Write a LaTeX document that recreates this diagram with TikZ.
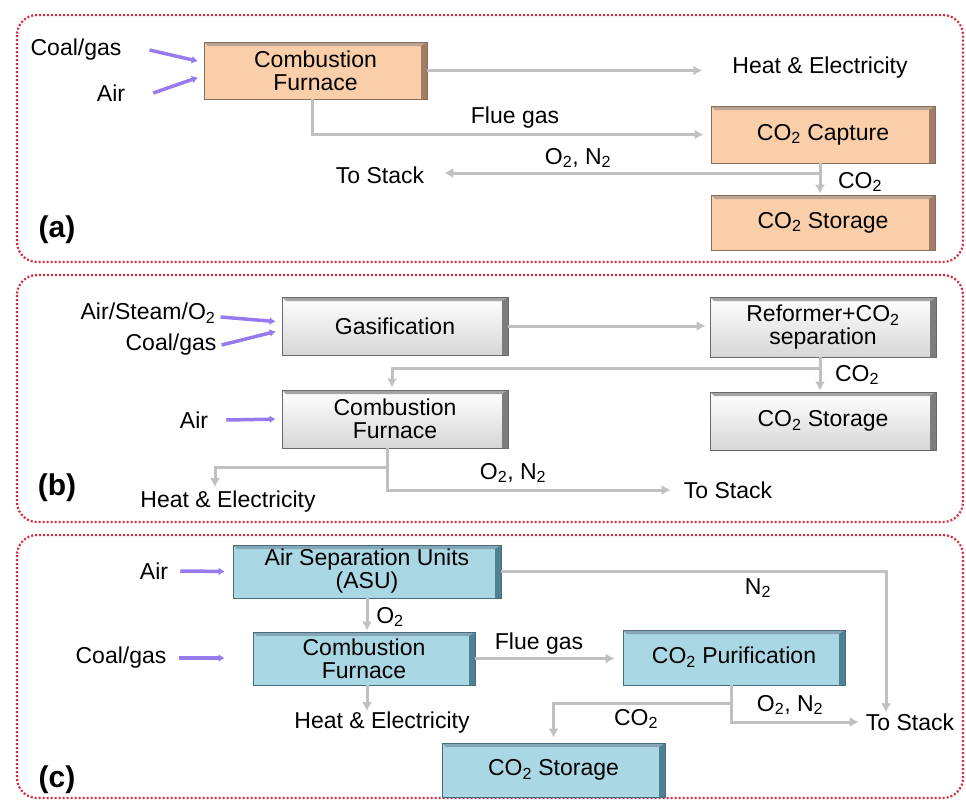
\documentclass[tikz,border=0pt]{standalone}
\usepackage{fontspec}
\setmainfont{Liberation Sans}
\usetikzlibrary{arrows.meta,calc}
\definecolor{framered}{RGB}{215,40,60}
\definecolor{flowgray}{RGB}{192,192,192}
\definecolor{feedpurple}{RGB}{150,122,238}
\definecolor{pfill}{RGB}{250,206,168}
\definecolor{pdark}{RGB}{160,125,100}
\definecolor{ptop}{RGB}{225,195,172}
\definecolor{pline}{RGB}{135,110,90}
\definecolor{gdark}{RGB}{125,125,125}
\definecolor{gtop}{RGB}{185,185,185}
\definecolor{gline}{RGB}{105,105,105}
\definecolor{bfill}{RGB}{170,215,228}
\definecolor{bdark}{RGB}{80,128,148}
\definecolor{btop}{RGB}{130,178,194}
\definecolor{bline}{RGB}{70,108,126}
\begin{document}
\begin{tikzpicture}[x=1pt,y=-1pt,
  every node/.style={font=\fontsize{23}{23}\selectfont, inner sep=0pt, align=center},
  box/.style n args={3}{draw=#3, line width=0.8pt, fill=#1,
    path picture={
      \fill[#2] ([xshift=-6pt]path picture bounding box.north east) rectangle (path picture bounding box.south east);
      \fill[#2!70!white] (path picture bounding box.north west) -- (path picture bounding box.north east)
        -- ([xshift=-6pt,yshift=-4pt]path picture bounding box.north east) -- ([xshift=4pt,yshift=-4pt]path picture bounding box.north west) -- cycle;
    }},
  pbox/.style={box={pfill}{pdark}{pline}},
  gbox/.style={box={white}{gdark}{gline}, top color=white, bottom color=black!16},
  bbox/.style={box={bfill}{bdark}{bline}},
  flow/.style={draw=flowgray, line width=3pt, -{Latex[length=9pt,width=10pt]}},
  feed/.style={draw=feedpurple, line width=3.5pt, -{Latex[length=6pt,width=8pt]}, shorten >=6pt},
  frame/.style={draw=framered, line width=2.2pt, dash pattern=on 2pt off 2pt, rounded corners=20pt},
  panel/.style={font=\bfseries\fontsize{30}{30}\selectfont}
]
\useasboundingbox (0,0) rectangle (966,801);

% frames
\draw[frame] (17,15) rectangle (963,262);
\draw[frame] (17,275) rectangle (963,522);
\draw[frame] (17,535) rectangle (963,798);

% ---------------- (a) ----------------
\node[pbox, minimum width=223pt, minimum height=57pt] (cfa) at (315.5,70.5) {Combustion\\Furnace};
\node[pbox, minimum width=224pt, minimum height=57pt] (capa) at (823,134.5) {CO\textsubscript{2} Capture};
\node[pbox, minimum width=224pt, minimum height=55pt] (stoa) at (823,222.5) {CO\textsubscript{2} Storage};
\node (coala) at (76,50) {Coal/gas};
\node (aira) at (111,93) {Air};
\node (heata) at (820,68) {Heat \& Electricity};
\node (fluea) at (515,118) {Flue gas};
\node (stacka) at (380,175) {To Stack};
\node (onea) at (578,158) {O\textsubscript{2}, N\textsubscript{2}};
\node (co2a) at (860,182) {CO\textsubscript{2}};
\node[panel] (la) at (57,230) {(a)};
\coordinate (ja) at (820,173);

\draw[feed] ([xshift=28pt]coala.east) -- ([yshift=8pt]cfa.west);
\draw[feed] ([xshift=28pt]aira.east) -- ([yshift=-5pt]cfa.west);
\draw[flow, shorten >=30pt] (cfa.east) -- (cfa.east -| heata.west);
\draw[flow, shorten >=7pt] ([xshift=-3pt]cfa.south) |- (capa.west);
\draw[flow, shorten >=1pt] ([xshift=-3pt]capa.south) -- ([xshift=-3pt]stoa.north);
\draw[flow, shorten >=20pt] (ja) -- (ja -| stacka.east);

% ---------------- (b) ----------------
\node[gbox, minimum width=226pt, minimum height=58pt] (gasb) at (395,326) {Gasification};
\node[gbox, minimum width=226pt, minimum height=60pt] (refb) at (823,327) {Reformer+CO\textsubscript{2}\\separation};
\node[gbox, minimum width=226pt, minimum height=58pt] (cfb) at (395,419) {Combustion\\Furnace};
\node[gbox, minimum width=226pt, minimum height=58pt] (stob) at (823,421) {CO\textsubscript{2} Storage};
\node (asob) at (148,313) {Air/Steam/O\textsubscript{2}};
\node (coalb) at (171,345) {Coal/gas};
\node (airb) at (194,420) {Air};
\node (co2b) at (857,375) {CO\textsubscript{2}};
\node (oneb) at (513,473) {O\textsubscript{2}, N\textsubscript{2}};
\node (stackb) at (728,490) {To Stack};
\node (heatb) at (228,502) {Heat \& Electricity};
\node[panel] (lb) at (57,488) {(b)};
\coordinate (jb) at (820,368);
\coordinate (jb2) at (387,467);

\draw[feed] ([xshift=5pt,yshift=-4pt]asob.east) -- ([yshift=4pt]gasb.west);
\draw[feed] ([xshift=5pt]coalb.east) -- ([yshift=-4pt]gasb.west);
\draw[feed] ([xshift=18pt]airb.east) -- (cfb.west);
\draw[flow, shorten >=4pt] (gasb.east) -- (gasb.east -| refb.west);
\draw[flow, shorten >=1pt] ([xshift=-3pt]refb.south) -- ([xshift=-3pt]stob.north);
\draw[flow, shorten >=2pt] (jb) -| ([xshift=-3pt]cfb.north);
\draw[flow, shorten >=13pt] ([xshift=-8pt]cfb.south) |- (stackb.west);
\draw[flow, shorten >=4pt] (jb2) -| ([xshift=-13pt]heatb.north);

% ---------------- (c) ----------------
\node[bbox, minimum width=268pt, minimum height=53pt] (asu) at (367,571.5) {Air Separation Units\\(ASU)};
\node[bbox, minimum width=222pt, minimum height=53pt] (cfc) at (364,658.5) {Combustion\\Furnace};
\node[bbox, minimum width=222pt, minimum height=55pt] (purc) at (734,657.5) {CO\textsubscript{2} Purification};
\node[bbox, minimum width=223pt, minimum height=54pt] (stoc) at (553.5,770) {CO\textsubscript{2} Storage};
\node (airc) at (154,571) {Air};
\node (coalc) at (121,658) {Coal/gas};
\node (o2c) at (390,617) {O\textsubscript{2}};
\node (heatc) at (382,723) {Heat \& Electricity};
\node (n2c) at (758,588) {N\textsubscript{2}};
\node (fluec) at (539,644) {Flue gas};
\node (stackc) at (910,722) {To Stack};
\node (onec) at (790,705) {O\textsubscript{2}, N\textsubscript{2}};
\node (co2c) at (636,719) {CO\textsubscript{2}};
\node[panel] (lc) at (57,780) {(c)};
\coordinate (jc) at (731,703);

\draw[feed, shorten >=8pt] ([xshift=12pt]airc.east) -- (asu.west);
\draw[feed, shorten >=28pt] ([xshift=12pt]coalc.east) -- (coalc.east -| cfc.west);
\draw[flow, shorten >=1pt] (asu.south) -- (asu.south |- cfc.north);
\draw[flow, shorten >=1pt] ([xshift=3pt]cfc.south) -- ([xshift=3pt]cfc.south |- heatc.north);
\draw[flow, shorten >=8pt] (cfc.east) -- (cfc.east -| purc.west);
\draw[flow, shorten >=1pt] (asu.east) -| ([xshift=-24pt]stackc.north);
\draw[flow, shorten >=7pt] ([xshift=-3pt]purc.south) |- (stackc.west);
\draw[flow, shorten >=5pt] (jc) -| (stoc.north);
\end{tikzpicture}
\end{document}
